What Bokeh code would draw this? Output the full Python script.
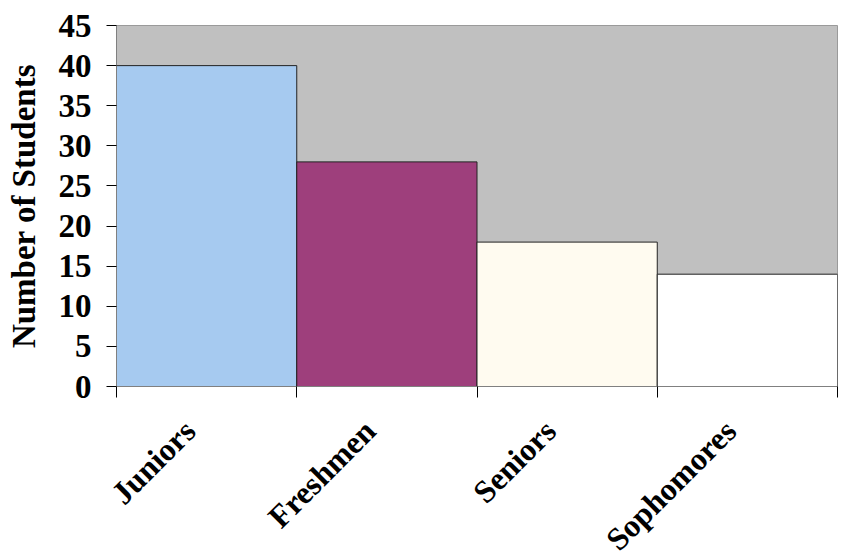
import math
import numpy as np
from bokeh.plotting import figure
from bokeh.models import FixedTicker, ColumnDataSource, Range1d, LinearAxis
from bokeh.embed import file_html
from bokeh.resources import INLINE

categories = ["Juniors", "Freshmen", "Seniors", "Sophomores"]
students = [40, 28, 18, 14]
bar_colors = ["#a6caf0", "#9e3f7c", "#fffbf0", "#ffffff"]
y_ticks = [0, 5, 10, 15, 20, 25, 30, 35, 40, 45]

n = len(categories)
centers = list(np.arange(n) + 0.5)
bounds = list(range(n + 1))

src = ColumnDataSource(dict(x=centers, top=students, color=bar_colors))

FONT = "Liberation Serif"
LABEL_SHIFT = 0.094  # nudges the rotated category labels left (style only)

p = figure(width=841, height=556, output_backend="svg", toolbar_location=None,
           x_range=Range1d(0, n), y_range=Range1d(0, 45),
           x_axis_location=None,
           min_border_left=116, min_border_right=4, min_border_top=25, min_border_bottom=170)
p.frame_width = 721
p.frame_height = 361
p.extra_x_ranges = {"lab": Range1d(LABEL_SHIFT, n + LABEL_SHIFT)}

p.vbar(x="x", top="top", bottom=0, width=1.0, fill_color="color",
       line_color="#222222", line_width=1, source=src)

p.background_fill_color = "#c0c0c0"
p.border_fill_color = "white"
p.outline_line_color = "#9a9a9a"
p.xgrid.visible = False
p.ygrid.visible = False

# y axis
p.yaxis.ticker = FixedTicker(ticks=y_ticks, minor_ticks=[])
p.yaxis.axis_label = "Number of Students"
p.yaxis.axis_label_text_font = FONT
p.yaxis.axis_label_text_font_style = "bold"
p.yaxis.axis_label_text_font_size = "33px"
p.yaxis.axis_label_text_color = "black"
p.yaxis.axis_label_standoff = 14
p.yaxis.major_label_text_font = FONT
p.yaxis.major_label_text_font_style = "bold"
p.yaxis.major_label_text_font_size = "33px"
p.yaxis.major_label_text_color = "black"
p.yaxis.major_label_standoff = 15
p.yaxis.major_tick_out = 10
p.yaxis.major_tick_in = 0
p.yaxis.major_tick_line_color = "black"
p.yaxis.axis_line_color = "#808080"
p.yaxis.minor_tick_line_color = None

# x axis line + tick marks at category boundaries (no labels)
tick_axis = LinearAxis(ticker=FixedTicker(ticks=[], minor_ticks=bounds),
                       axis_line_color="#808080",
                       major_tick_line_color=None,
                       minor_tick_line_color="black", minor_tick_out=11, minor_tick_in=0,
                       major_label_standoff=0)
p.add_layout(tick_axis, "below")

# category labels, rotated, below the ticks
label_axis = LinearAxis(x_range_name="lab",
                        ticker=FixedTicker(ticks=centers, minor_ticks=[]),
                        major_label_overrides={c: lab for c, lab in zip(centers, categories)},
                        axis_line_color=None, major_tick_line_color=None,
                        minor_tick_line_color=None,
                        major_label_orientation=math.pi / 4,
                        major_label_text_font=FONT, major_label_text_font_style="bold",
                        major_label_text_font_size="32px", major_label_text_color="black",
                        major_label_standoff=22)
p.add_layout(label_axis, "below")

open("out.html", "w").write(file_html(p, INLINE))
